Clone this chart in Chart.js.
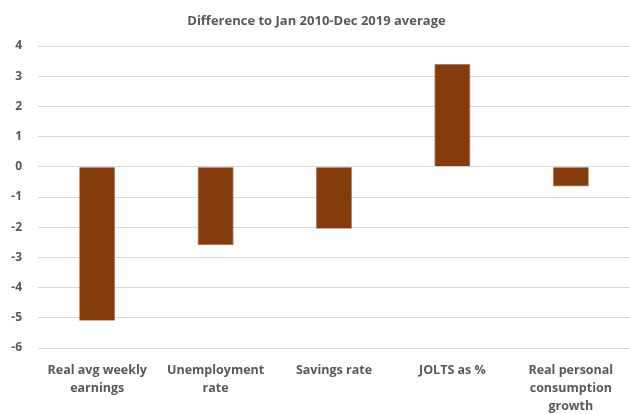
<!DOCTYPE html>
<html>
<head>
<meta charset="utf-8">
<script src="https://cdn.jsdelivr.net/npm/chart.js@4"></script>
<style>
html,body{margin:0;padding:0;background:#fff;}
#wrap{width:630px;height:414px;}
</style>
</head>
<body>
<div id="wrap"><canvas id="c" width="630" height="414"></canvas></div>
<script>
const categories = [
  ["Real avg weekly", "earnings"],
  ["Unemployment", "rate"],
  "Savings rate",
  "JOLTS as %",
  ["Real personal", "consumption", "growth"]
];
const values = [-5.1, -2.6, -2.05, 3.4, -0.65];
const titleText = "Difference to Jan 2010-Dec 2019 average";
const yMin = -6, yMax = 4, yStep = 1;

const grey = "#595959";
const fontFam = "'Open Sans', sans-serif";

new Chart(document.getElementById("c"), {
  type: "bar",
  data: {
    labels: categories,
    datasets: [{
      data: values,
      backgroundColor: "#843C0C",
      borderColor: "#b07a58",
      borderWidth: 0.8,
      barPercentage: 0.305,
      categoryPercentage: 1.0
    }]
  },
  options: {
    responsive: false,
    animation: false,
    layout: { padding: { left: 0, right: -3, top: 0, bottom: 0 } },
    plugins: {
      legend: { display: false },
      tooltip: { enabled: false },
      title: {
        display: true,
        text: titleText,
        color: grey,
        font: { family: fontFam, size: 13, weight: "bold" },
        padding: { top: 13, bottom: 17.4 }
      }
    },
    scales: {
      x: {
        grid: { display: false, drawTicks: false },
        border: { display: false },
        afterFit: (s) => { s.height = 66; },
        ticks: {
          color: grey,
          font: { family: fontFam, size: 12.5, weight: "bold", lineHeight: 1.45 },
          padding: 13,
          maxRotation: 0,
          autoSkip: false
        }
      },
      y: {
        min: yMin,
        max: yMax,
        grid: { color: "#d9d9d9", lineWidth: 1, drawTicks: false },
        border: { display: false },
        afterFit: (s) => { s.width = 38; },
        ticks: {
          stepSize: yStep,
          color: grey,
          font: { family: fontFam, size: 12, weight: "bold" },
          padding: 16
        }
      }
    }
  }
});
</script>
</body>
</html>
